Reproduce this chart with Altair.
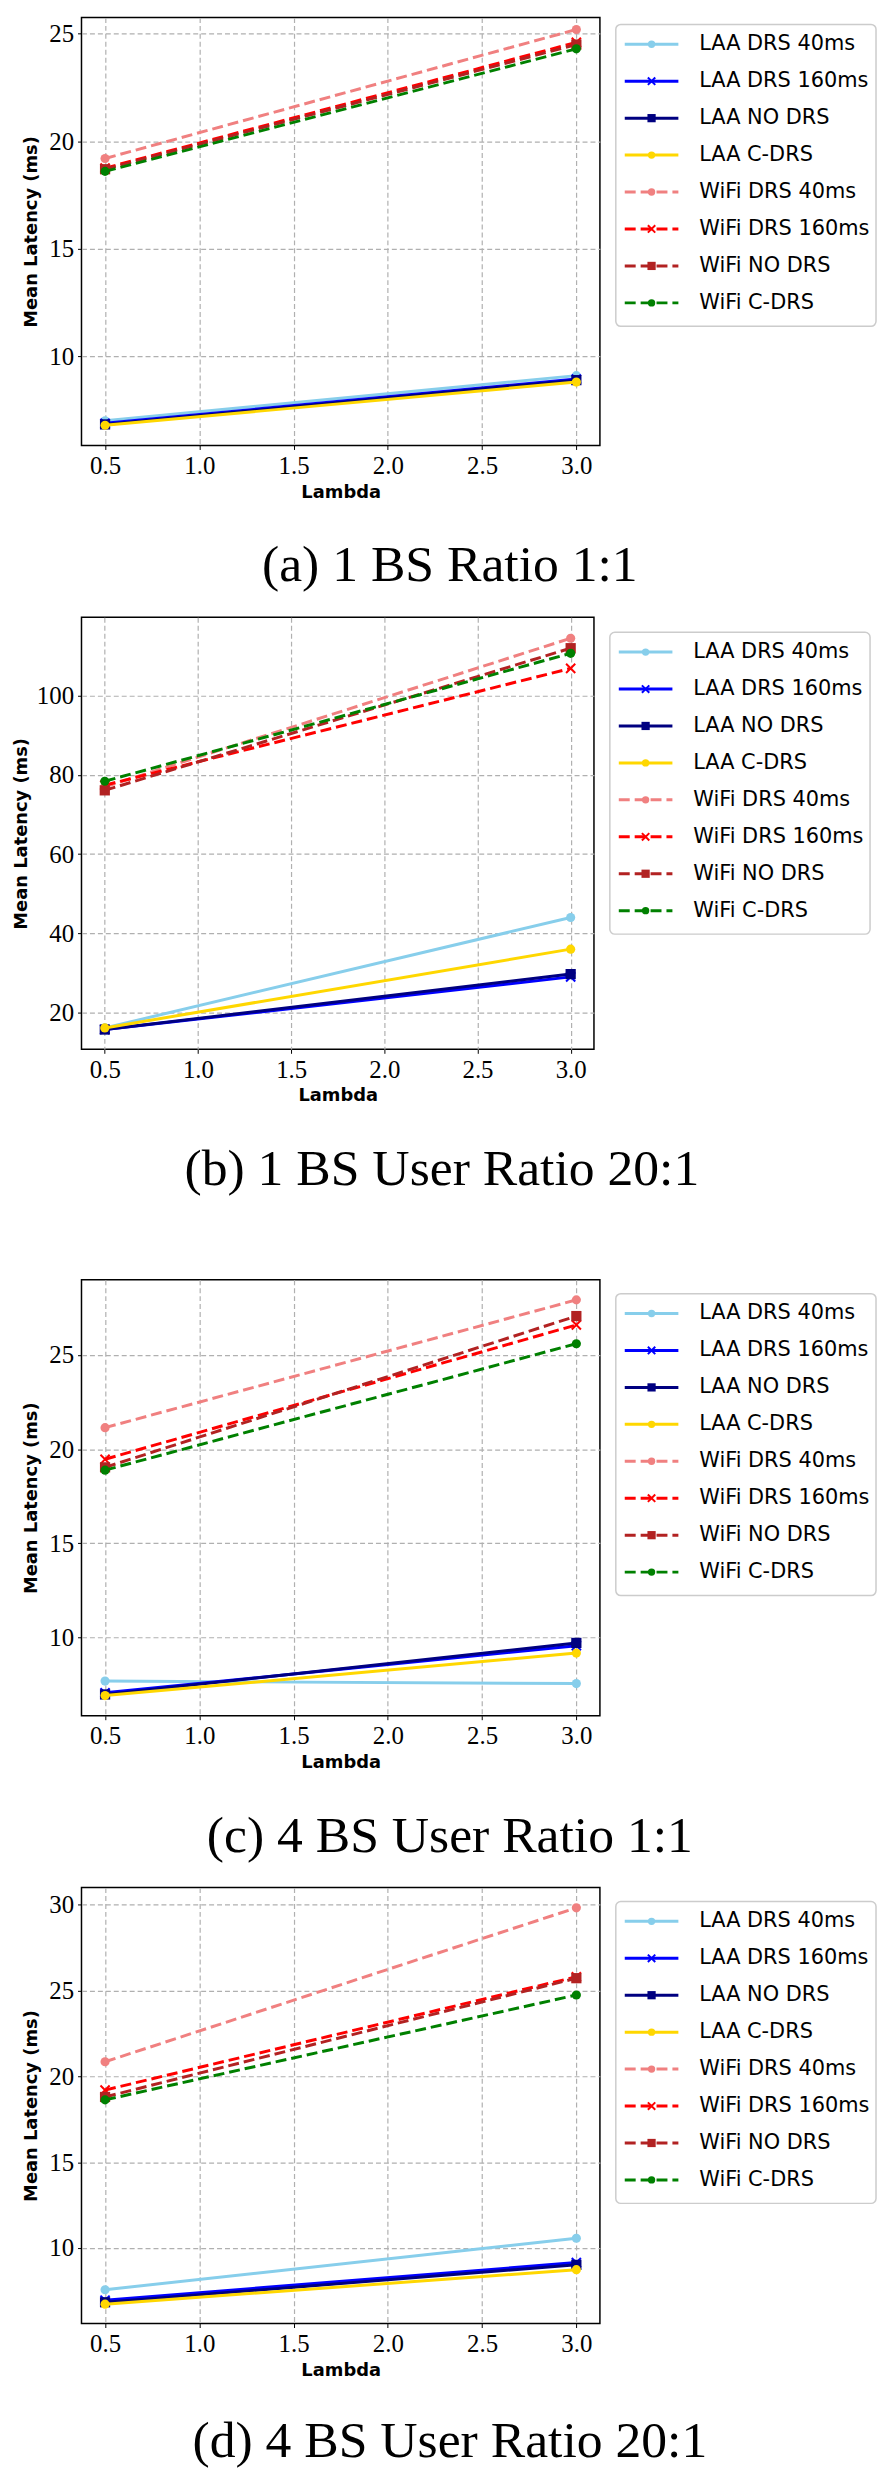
import altair as alt
import pandas as pd

SERIES = ["LAA DRS 40ms", "LAA DRS 160ms", "LAA NO DRS", "LAA C-DRS",
          "WiFi DRS 40ms", "WiFi DRS 160ms", "WiFi NO DRS", "WiFi C-DRS"]
LAMBDA = [0.5, 3.0]
LAMBDA_TICKS = [0.5, 1.0, 1.5, 2.0, 2.5, 3.0]

# Mean latency (ms) at lambda = 0.5 and lambda = 3.0, per series (order of SERIES)
A_LOW = [7.0, 6.88, 6.83, 6.79, 19.2, 18.75, 18.7, 18.6]
A_HIGH = [9.1, 8.94, 8.89, 8.8, 25.2, 24.6, 24.5, 24.3]
B_LOW = [16.1, 15.7, 15.7, 16.1, 77.0, 77.4, 76.1, 78.4]
B_HIGH = [44.0, 29.0, 29.7, 36.0, 114.5, 106.9, 112.0, 110.7]
C_LOW = [7.67, 7.05, 6.96, 6.9, 21.14, 19.46, 19.03, 18.88]
C_HIGH = [7.54, 9.55, 9.7, 9.16, 27.93, 26.6, 27.07, 25.6]
D_LOW = [7.57, 6.96, 6.84, 6.73, 20.85, 19.2, 18.8, 18.63]
D_HIGH = [10.57, 9.15, 9.02, 8.74, 29.82, 25.8, 25.72, 24.74]

A_YTICKS = [10, 15, 20, 25]
B_YTICKS = [20, 40, 60, 80, 100]
C_YTICKS = [10, 15, 20, 25]
D_YTICKS = [10, 15, 20, 25, 30]

CAPTIONS = ["(a) 1 BS Ratio 1:1", "(b) 1 BS User Ratio 20:1",
            "(c) 4 BS User Ratio 1:1", "(d) 4 BS User Ratio 20:1"]

COLORS = ["#87CEEB", "#0000FF", "#000080", "#FFD700",
          "#F08080", "#FF0000", "#B22222", "#008000"]
MARKERS = ["circle", "x", "square", "circle", "circle", "x", "square", "circle"]
DASH = [11, 5]
DASHES = [[1, 0]] * 4 + [DASH] * 4
X_PATH = "M-1,-1L1,1M-1,1L1,-1"

LEG_W = 264

color_scale = alt.Scale(domain=SERIES, range=COLORS)
cenc = alt.Color("series:N", scale=color_scale, legend=None)


def marker_mark(base, marker, size):
    if marker == "x":
        return base.mark_point(shape=X_PATH, filled=False, size=size, strokeWidth=2, opacity=1)
    s = size * 1.25 if marker == "square" else size
    return base.mark_point(shape=marker, filled=True, size=s, opacity=1)


def plot(low, high, ydom, yticks, width, height, extent, tpad):
    df = pd.DataFrame({
        "series": SERIES + SERIES,
        "lam": [LAMBDA[0]] * len(SERIES) + [LAMBDA[1]] * len(SERIES),
        "val": low + high,
    })
    xenc = alt.X("lam:Q", scale=alt.Scale(domain=[0.375, 3.125], nice=False, zero=False),
                 axis=alt.Axis(values=LAMBDA_TICKS, format=".1f", title="Lambda", titlePadding=5))
    yenc = alt.Y("val:Q", scale=alt.Scale(domain=ydom, nice=False, zero=False),
                 axis=alt.Axis(values=yticks, format="d", title="Mean Latency (ms)",
                               titlePadding=tpad, minExtent=extent, maxExtent=extent))
    layers = []
    for i, s in enumerate(SERIES):
        base = alt.Chart(df).transform_filter(alt.datum.series == s)
        if s.startswith("WiFi"):
            line = base.mark_line(strokeWidth=3, strokeDash=DASH)
        else:
            line = base.mark_line(strokeWidth=3)
        layers.append(line.encode(x=xenc, y=yenc, color=cenc))
        layers.append(marker_mark(base, MARKERS[i], 85).encode(x=xenc, y=yenc, color=cenc))
    return alt.layer(*layers).properties(
        width=width, height=height,
        view=alt.ViewBackground(stroke="black", strokeWidth=1.5))


def legend(height, top):
    ldf = pd.DataFrame({"series": SERIES})
    yl = alt.Y("series:N", axis=None,
               scale=alt.Scale(type="point", domain=SERIES,
                               range=[top + 20, top + 20 + 7 * 37.2], padding=0))
    frame = alt.Chart(pd.DataFrame({"k": [0]})).mark_rect(
        fill="white", stroke="#cccccc", strokeWidth=1.5, cornerRadius=5
    ).encode(x=alt.value(1), x2=alt.value(LEG_W - 1), y=alt.value(top), y2=alt.value(top + 304))
    rules = alt.Chart(ldf).mark_rule(strokeWidth=3).encode(
        y=yl, x=alt.value(10), x2=alt.value(64), color=cenc,
        strokeDash=alt.StrokeDash("series:N", scale=alt.Scale(domain=SERIES, range=DASHES), legend=None))
    layers = [frame, rules]
    for i, s in enumerate(SERIES):
        base = alt.Chart(ldf).transform_filter(alt.datum.series == s)
        layers.append(marker_mark(base, MARKERS[i], 55).encode(x=alt.value(37), y=yl, color=cenc))
    texts = alt.Chart(ldf).mark_text(align="left", baseline="middle", font="DejaVu Sans",
                                     fontSize=21, color="black").encode(
        x=alt.value(85), y=yl, text="series:N")
    layers.append(texts)
    return alt.layer(*layers).properties(
        width=LEG_W, height=height,
        view=alt.ViewBackground(stroke="transparent"))


def row(low, high, ydom, yticks, width, height, caption, top, extent, tpad, offset):
    return alt.hconcat(
        plot(low, high, ydom, yticks, width, height, extent, tpad),
        legend(height, top),
        spacing=13,
    ).properties(title=alt.TitleParams(caption, orient="bottom", anchor="middle", offset=offset))


row_a = row(A_LOW, A_HIGH, [5.85, 25.76], A_YTICKS, 522, 431, CAPTIONS[0], 7, 34, 7, 39)
row_b = row(B_LOW, B_HIGH, [10.7, 119.8], B_YTICKS, 516, 435, CAPTIONS[1], 15, 46, 5, 39)
row_c = row(C_LOW, C_HIGH, [5.83, 29.0], C_YTICKS, 522, 439, CAPTIONS[2], 14, 34, 7, 39)
row_d = row(D_LOW, D_HIGH, [5.6, 31.0], D_YTICKS, 522, 439, CAPTIONS[3], 14, 34, 7, 37)

top_part = alt.vconcat(row_a, row_b, spacing=25)
bottom_part = alt.vconcat(row_c, row_d, spacing=25)

chart = alt.vconcat(top_part, bottom_part, spacing=84).properties(
    padding={"left": 4, "top": 0, "right": 0, "bottom": 0}, background="white"
).configure_axis(
    labelFont="Liberation Serif", labelFontSize=25, labelColor="black",
    titleFont="DejaVu Sans", titleFontSize=18, titleFontWeight="bold", titleColor="black",
    tickColor="black", tickSize=4, tickWidth=1, domain=False,
    grid=True, gridColor="#b0b0b0", gridDash=[5, 3], gridWidth=1.2, labelPadding=4,
).configure_title(
    font="Liberation Serif", fontSize=52, fontWeight="normal", color="black"
)

chart.save("out.html", embed_options={"renderer": "svg", "actions": False})
